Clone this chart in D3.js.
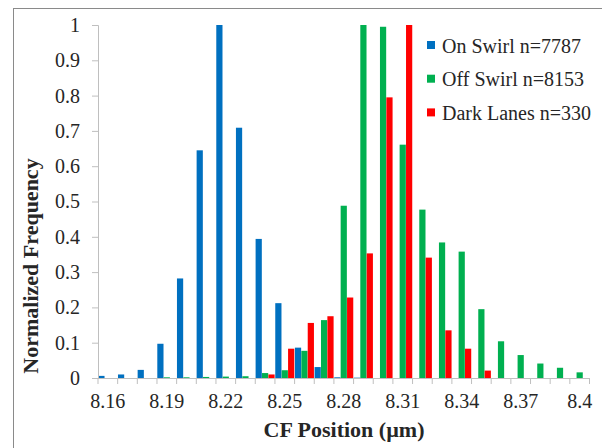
<!DOCTYPE html>
<html>
<head>
<meta charset="utf-8">
<script src="https://cdn.jsdelivr.net/npm/d3@7/dist/d3.min.js"></script>
<style>
  body { margin: 0; background: #fff; }
  svg { display: block; }
  text { font-family: "Liberation Serif", "Times New Roman", serif; fill: #262626; }
</style>
</head>
<body>
<div id="chart"></div>
<script>
// data
var categories = ['8.16', '8.17', '8.18', '8.19', '8.2', '8.21', '8.22', '8.23', '8.24', '8.25',
                  '8.26', '8.27', '8.28', '8.29', '8.3', '8.31', '8.32', '8.33', '8.34', '8.35',
                  '8.36', '8.37', '8.38', '8.39', '8.4'];
var onSwirl   = [0.006, 0.010, 0.023, 0.097, 0.282, 0.645, 1.000, 0.709, 0.394, 0.212,
                 0.086, 0.031, 0.002, 0.001, 0, 0, 0, 0, 0, 0,
                 0, 0, 0, 0, 0];
var offSwirl  = [0, 0, 0, 0.002, 0.002, 0.003, 0.004, 0.005, 0.014, 0.022,
                 0.077, 0.164, 0.488, 1.000, 0.995, 0.661, 0.477, 0.384, 0.358, 0.195,
                 0.104, 0.065, 0.041, 0.029, 0.016];
var darkLanes = [0, 0, 0, 0, 0, 0, 0, 0, 0.010, 0.083,
                 0.156, 0.175, 0.228, 0.353, 0.795, 1.000, 0.341, 0.135, 0.083, 0.021,
                 0, 0, 0, 0, 0];
var seriesNames = ['On Swirl n=7787', 'Off Swirl n=8153', 'Dark Lanes n=330'];
var colors = ['#0070C0', '#00B050', '#FF0000'];
var xLabels = ['8.16', '8.19', '8.22', '8.25', '8.28', '8.31', '8.34', '8.37', '8.4'];
var yTicks = [0, 0.1, 0.2, 0.3, 0.4, 0.5, 0.6, 0.7, 0.8, 0.9, 1];

var W = 602, H = 448;
var margin = {top: 25, left: 98, right: 12.5, bottom: 70};

var svg = d3.select('#chart').append('svg')
    .attr('width', W)
    .attr('height', H);

// outer chart frame (cropped on the right and bottom)
svg.append('rect')
    .attr('x', 13.5).attr('y', 8.5)
    .attr('width', W + 20).attr('height', H + 20)
    .attr('fill', 'none')
    .attr('stroke', '#8a8a8a');

var x = d3.scaleBand()
    .domain(categories)
    .range([margin.left, W - margin.right])
    .padding(0);

var sub = d3.scaleBand()
    .domain([0, 1, 2])
    .range([0, x.bandwidth()])
    .paddingInner(0.03)
    .paddingOuter(0.05);

var y = d3.scaleLinear()
    .domain([0, 1])
    .range([H - margin.bottom, margin.top]);

var series = [onSwirl, offSwirl, darkLanes];

// bars
series.forEach(function(vals, s) {
    svg.append('g')
        .attr('class', 'series')
        .selectAll('rect')
        .data(vals)
        .enter()
        .append('rect')
        .attr('x', function(d, i) { return x(categories[i]) + sub(s) })
        .attr('y', function(d) { return y(d) })
        .attr('width', sub.bandwidth())
        .attr('height', function(d) { return y(0) - y(d) })
        .attr('fill', colors[s]);
});

// y axis
var yAxis = svg.append('g')
    .attr('transform', 'translate(' + margin.left + ',0)')
    .call(d3.axisLeft(y)
        .tickValues(yTicks)
        .tickSize(6)
        .tickPadding(12)
        .tickFormat(function(d) { return d3.format('')(+d.toFixed(1)) })
    );
yAxis.select('.domain').attr('stroke', '#bfbfbf');
yAxis.selectAll('.tick line').attr('stroke', '#bfbfbf');
yAxis.selectAll('.tick text')
    .attr('font-size', 20)
    .attr('font-family', '"Liberation Serif", serif')
    .attr('fill', '#262626');

// x axis: boundary ticks + labels every third category
var xg = svg.append('g').attr('class', 'x-axis');
xg.append('line')
    .attr('x1', x.range()[0]).attr('x2', x.range()[1])
    .attr('y1', y(0) + 0.5).attr('y2', y(0) + 0.5)
    .attr('stroke', '#bfbfbf');
var bounds = categories.map(function(c) { return x(c) }).concat([x.range()[1]]);
xg.selectAll('line.tick')
    .data(bounds)
    .enter()
    .append('line')
    .attr('class', 'tick')
    .attr('x1', function(d) { return d }).attr('x2', function(d) { return d })
    .attr('y1', y(0)).attr('y2', y(0) + 6)
    .attr('stroke', '#bfbfbf');
xg.selectAll('text')
    .data(xLabels)
    .enter()
    .append('text')
    .attr('x', function(d) { return x(d) + x.bandwidth() / 2 })
    .attr('y', 408)
    .attr('text-anchor', 'middle')
    .attr('font-size', 20)
    .text(function(d) { return d });

// axis titles
svg.append('text')
    .attr('x', 344)
    .attr('y', 437)
    .attr('text-anchor', 'middle')
    .attr('font-size', 22)
    .attr('font-weight', 'bold')
    .attr('fill', '#000')
    .text('CF Position (\u00b5m)');

svg.append('text')
    .attr('transform', 'translate(38,266) rotate(-90)')
    .attr('text-anchor', 'middle')
    .attr('font-size', 22)
    .attr('font-weight', 'bold')
    .attr('fill', '#000')
    .text('Normalized Frequency');

// legend
var legend = svg.selectAll('g.legend')
    .data(seriesNames)
    .enter()
    .append('g')
    .attr('class', 'legend')
    .attr('transform', function(d, i) { return 'translate(427,' + (41 + i * 33.7) + ')' });
legend.append('rect')
    .attr('width', 8).attr('height', 8)
    .attr('fill', function(d, i) { return colors[i] });
legend.append('text')
    .attr('x', 15)
    .attr('y', 11.5)
    .attr('font-size', 20)
    .text(function(d) { return d });
</script>
</body>
</html>
